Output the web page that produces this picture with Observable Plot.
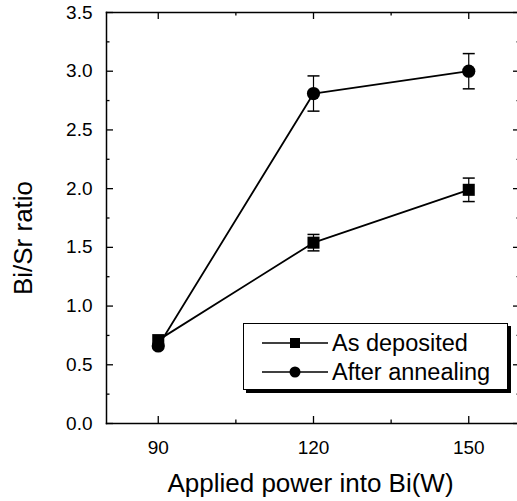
<!DOCTYPE html>
<html><head><meta charset="utf-8">
<script src="https://cdn.jsdelivr.net/npm/d3@7"></script>
<script src="https://cdn.jsdelivr.net/npm/@observablehq/plot@0.6"></script>
<style>
html,body{margin:0;padding:0;background:#fff;overflow:hidden;}
#wrap{position:relative;width:517px;height:501px;overflow:hidden;font-family:Arial,"Liberation Sans",sans-serif;}
#wrap > svg{display:block;max-width:none !important;width:521px !important;height:501px !important;}
#legend{position:absolute;left:243px;top:323px;width:265px;height:67px;box-sizing:border-box;border:1.5px solid #000;box-shadow:3px 3px 0 #000;background:#fff;}
.row{position:absolute;left:18px;height:26px;display:flex;align-items:center;font-size:23.5px;color:#000;white-space:nowrap;}
.row svg{margin-right:4px;flex:none;}
</style></head><body><div id="wrap"></div>
<script>
// ---- data ----
const powers = [90, 120, 150];
const asDeposited = [0.71, 1.54, 1.99];
const asDepositedErr = [0, 0.07, 0.10];
const afterAnnealing = [0.66, 2.81, 3.00];
const afterAnnealingErr = [0, 0.15, 0.15];
const seriesNames = ["As deposited", "After annealing"];
const xMajor = [90, 120, 150];
const xMinor = [105, 135];
const yMajor = [0, 0.5, 1.0, 1.5, 2.0, 2.5, 3.0, 3.5];
const yMinor = [0.25, 0.75, 1.25, 1.75, 2.25, 2.75, 3.25];
const xLabel = "Applied power into Bi(W)";
const yLabel = "Bi/Sr ratio";

const rows = [];
powers.forEach((p, i) => {
  rows.push({power: p, value: asDeposited[i], err: asDepositedErr[i], series: seriesNames[0]});
  rows.push({power: p, value: afterAnnealing[i], err: afterAnnealingErr[i], series: seriesNames[1]});
});
const dep = rows.filter(d => d.series === seriesNames[0]);
const ann = rows.filter(d => d.series === seriesNames[1]);
const errRows = rows.filter(d => d.err > 0);

const W = 521, H = 501, mL = 106, mR = 1, mT = 12, mB = 78;
const fw = W - mL - mR, fh = H - mT - mB;
const major = 7, minor = 3.5;

const cap = {draw(ctx) { ctx.moveTo(-6, 0); ctx.lineTo(6, 0); }};

const chart = Plot.plot({
  width: W, height: H,
  marginLeft: mL, marginRight: mR, marginTop: mT, marginBottom: mB,
  style: {fontFamily: 'Arial, "Liberation Sans", sans-serif', fontSize: "19px", color: "#000", background: "#fff"},
  x: {domain: [80, 160]},
  y: {domain: [0, 3.5]},
  marks: [
    Plot.frame({anchor: "left", stroke: "#000", strokeWidth: 1.5}),
    Plot.frame({anchor: "top", stroke: "#000", strokeWidth: 1.5}),
    Plot.frame({anchor: "bottom", stroke: "#000", strokeWidth: 1.5}),
    // inward ticks
    Plot.tickY(yMajor, {y: d => d, insetRight: fw - major, strokeWidth: 1.3}),
    Plot.tickY(yMinor, {y: d => d, insetRight: fw - minor, strokeWidth: 1.3}),
    Plot.tickY(yMajor, {y: d => d, insetLeft: fw - major, strokeWidth: 1.3}),
    Plot.tickY(yMinor, {y: d => d, insetLeft: fw - minor, strokeWidth: 1.3}),
    Plot.tickX(xMajor, {x: d => d, insetTop: fh - major, strokeWidth: 1.3}),
    Plot.tickX(xMinor, {x: d => d, insetTop: fh - minor, strokeWidth: 1.3}),
    Plot.tickX(xMajor, {x: d => d, insetBottom: fh - major, strokeWidth: 1.3}),
    Plot.tickX(xMinor, {x: d => d, insetBottom: fh - minor, strokeWidth: 1.3}),
    Plot.axisY(yMajor, {tickSize: 0, tickPadding: 14, tickFormat: d3.format(".1f"), label: null, fontSize: 19}),
    Plot.axisX(xMajor, {tickSize: 0, tickPadding: 17, label: null, fontSize: 19}),
    // lines
    Plot.line(dep, {x: "power", y: "value", stroke: "#000", strokeWidth: 1.8}),
    Plot.line(ann, {x: "power", y: "value", stroke: "#000", strokeWidth: 1.8}),
    // error bars
    Plot.link(errRows, {x1: "power", x2: "power", y1: d => d.value - d.err, y2: d => d.value + d.err, stroke: "#000", strokeWidth: 1.2}),
    Plot.dot(errRows, {x: "power", y: d => d.value - d.err, symbol: cap, stroke: "#000", fill: "none", strokeWidth: 1.5}),
    Plot.dot(errRows, {x: "power", y: d => d.value + d.err, symbol: cap, stroke: "#000", fill: "none", strokeWidth: 1.5}),
    // markers
    Plot.dot(dep, {x: "power", y: "value", symbol: "square", r: 6.8, fill: "#000", stroke: "none"}),
    Plot.dot(ann, {x: "power", y: "value", symbol: "circle", r: 6.6, fill: "#000", stroke: "none"}),
    // axis titles
    Plot.text([xLabel], {text: d => d, frameAnchor: "bottom", textAnchor: "middle", dx: -3, dy: 60, fontSize: 26, lineAnchor: "middle"}),
    Plot.text([yLabel], {text: d => d, frameAnchor: "left", textAnchor: "middle", rotate: -90, dx: -83, dy: 20, fontSize: 26, lineAnchor: "middle"})
  ]
});
const wrap = document.getElementById("wrap");
wrap.appendChild(chart);

// legend
const legend = document.createElement("div");
legend.id = "legend";
const sym = [
  '<rect x="28" y="5" width="10" height="10" fill="#000"/>',
  '<circle cx="33" cy="10" r="5.5" fill="#000"/>'
];
seriesNames.forEach((name, i) => {
  const row = document.createElement("div");
  row.className = "row";
  row.style.top = (i === 0 ? 6 : 35) + "px";
  row.innerHTML = '<svg width="66" height="20"><line x1="0" x2="66" y1="10" y2="10" stroke="#000" stroke-width="1.4"/>' + sym[i] + '</svg><span>' + name + '</span>';
  legend.appendChild(row);
});
wrap.appendChild(legend);
</script>
</body></html>
